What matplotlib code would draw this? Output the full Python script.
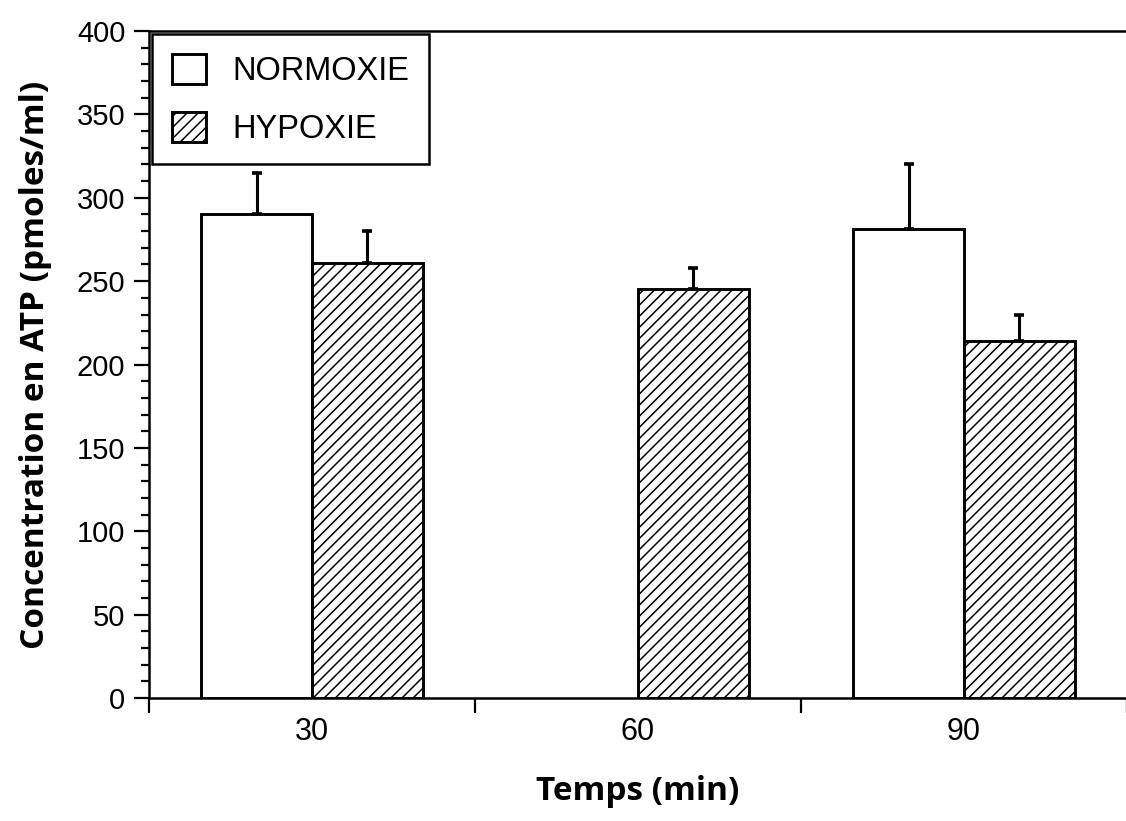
import numpy as np
import matplotlib
matplotlib.use("Agg")
import matplotlib.pyplot as plt
from matplotlib.ticker import MultipleLocator, FixedLocator, NullFormatter

# ATP en fonction du temps
temps = ["30", "60", "90"]
normoxie = [290, None, 281]
normoxie_err = [25, None, 39]
hypoxie = [261, 245, 214]
hypoxie_err = [19, 13, 16]

plt.rcParams["font.family"] = ["Liberation Sans", "DejaVu Sans"]
plt.rcParams["hatch.linewidth"] = 1.1

fig = plt.figure(figsize=(11.26, 8.21), dpi=100)
ax = fig.add_axes([0.1323, 0.1498, 0.8686, 0.8124])

x = np.arange(1, len(temps) + 1)
w = 0.34

def draw(vals, errs, offset, hatch, label):
    xs = [xi + offset for xi, v in zip(x, vals) if v is not None]
    ys = [v for v in vals if v is not None]
    es = [e for e in errs if e is not None]
    ax.bar(xs, ys, width=w, color="white", edgecolor="black", linewidth=2.1,
           hatch=hatch, label=label, zorder=3)
    ax.errorbar(xs, ys, yerr=[np.zeros(len(es)), es], fmt="none", ecolor="black",
                elinewidth=2.2, capsize=3.8, capthick=2.6, zorder=2)

draw(normoxie, normoxie_err, -w / 2, None, "NORMOXIE")
draw(hypoxie, hypoxie_err, w / 2, "///", "HYPOXIE")

ax.set_xlim(0.5, 3.5)
ax.set_ylim(0, 400)

# axe y : graduations principales tous les 50, secondaires tous les 10
ax.yaxis.set_major_locator(MultipleLocator(50))
ax.yaxis.set_minor_locator(MultipleLocator(10))
ax.tick_params(axis="y", which="major", direction="out", length=11, width=1.6,
               labelsize=21, pad=6)
ax.tick_params(axis="y", which="minor", direction="out", length=5.5, width=1.6)

# axe x : traits aux limites des groupes, étiquettes au centre
ax.xaxis.set_major_locator(FixedLocator([0.5, 1.5, 2.5, 3.5]))
ax.xaxis.set_major_formatter(NullFormatter())
ax.xaxis.set_minor_locator(FixedLocator(x))
ax.set_xticklabels(temps, minor=True)
ax.tick_params(axis="x", which="major", direction="out", length=11, width=1.6)
ax.tick_params(axis="x", which="minor", length=0, labelsize=22, pad=14)

for side in ["left", "bottom", "top"]:
    ax.spines[side].set_linewidth(1.8)
ax.spines["right"].set_visible(False)

ax.set_ylabel("Concentration en ATP (pmoles/ml)", family="Open Sans",
              fontweight="bold", fontsize=24, labelpad=18)
ax.set_xlabel("Temps (min)", family="Open Sans", fontweight="bold",
              fontsize=24, labelpad=20)

leg = ax.legend(loc="upper left", borderaxespad=0.1, fontsize=23.5, fancybox=False,
                edgecolor="black", framealpha=1, handlelength=1.05,
                handleheight=1.05, handletextpad=0.8, labelspacing=0.75,
                borderpad=0.6)
leg.get_frame().set_linewidth(1.8)
leg.set_zorder(5)

fig.savefig("out.png", dpi=100)
